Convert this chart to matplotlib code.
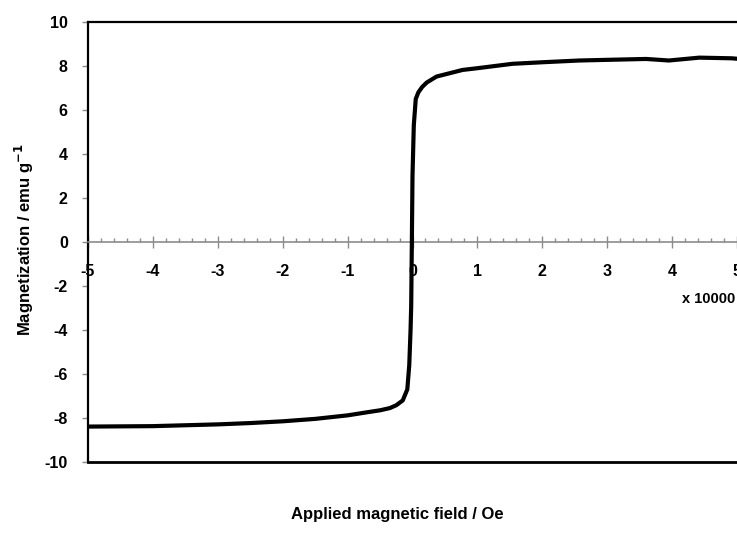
import matplotlib
matplotlib.use("Agg")
from matplotlib import pyplot as plt
from matplotlib.ticker import MultipleLocator

# applied field (x 10000 Oe) and magnetization (emu/g)
field = [-5.0, -4.5, -4.0, -3.5, -3.0, -2.5, -2.0, -1.5, -1.0, -0.7, -0.5, -0.35,
         -0.25, -0.15, -0.08, -0.05, -0.03, -0.02, -0.01, 0.0, 0.02, 0.05, 0.09,
         0.15, 0.22, 0.37, 0.77, 1.0, 1.54, 2.0, 2.57, 3.0, 3.6, 3.95, 4.42, 4.92, 5.0]
magnet = [-8.39, -8.38, -8.37, -8.33, -8.29, -8.23, -8.15, -8.04, -7.88, -7.74, -7.65, -7.55,
          -7.42, -7.2, -6.7, -5.6, -4.0, -2.9, 0.0, 3.0, 5.3, 6.5, 6.8,
          7.05, 7.25, 7.52, 7.82, 7.9, 8.1, 8.17, 8.25, 8.28, 8.32, 8.25, 8.38, 8.35, 8.33]

x_ticks = [-5, -4, -3, -2, -1, 0, 1, 2, 3, 4, 5]
y_ticks = [-10, -8, -6, -4, -2, 0, 2, 4, 6, 8, 10]

plt.rcParams['font.family'] = ['Liberation Sans', 'DejaVu Sans']
plt.rcParams['font.weight'] = 'bold'
plt.rcParams['mathtext.default'] = 'bf'

fig = plt.figure(figsize=(7.37, 5.35), dpi=100)
ax = fig.add_axes([88 / 737, 73 / 535, 1 - 88 / 737, 440 / 535])

ax.plot(field, magnet, color='black', lw=3, solid_capstyle='round', solid_joinstyle='round', zorder=5)

ax.set_xlim(-5, 5)
ax.set_ylim(-10, 10)

# x axis sits on y = 0 in grey, frame is black
ax.spines['bottom'].set_position(('data', 0))
ax.spines['bottom'].set_color('#8c8c8c')
ax.spines['bottom'].set_linewidth(1.2)
ax.spines['right'].set_visible(False)
ax.spines['top'].set_linewidth(1.6)
ax.spines['left'].set_linewidth(1.6)
ax.axhline(-10, color='black', lw=2, clip_on=False)

ax.set_xticks(x_ticks)
ax.set_xticklabels([str(v) for v in x_ticks])
ax.xaxis.set_minor_locator(MultipleLocator(0.2))
ax.tick_params(axis='x', which='major', direction='inout', length=8, width=1,
               color='#8c8c8c', labelsize=11.5, pad=12)
ax.tick_params(axis='x', which='minor', direction='in', length=3, width=1, color='#8c8c8c')

ax.set_yticks(y_ticks)
ax.set_yticklabels([str(v) for v in y_ticks])
ax.tick_params(axis='y', direction='out', length=4.5, width=1, color='#8c8c8c',
               labelsize=11.5, pad=10)

for lab in ax.get_xticklabels() + ax.get_yticklabels():
    lab.set_fontweight('bold')
    lab.set_zorder(1)

ax.text(0.997, 0.37, 'x 10000', transform=ax.transAxes, ha='right', va='center',
        fontsize=10.5, fontweight='bold')

fig.text(24 / 737, 1 - 240 / 535, 'Magnetization / emu g$^{-1}$', rotation=90,
         ha='center', va='center', fontsize=12, fontweight='bold')
fig.text(397 / 737, 1 - 514 / 535, 'Applied magnetic field / Oe',
         ha='center', va='center', fontsize=12, fontweight='bold')

fig.savefig('out.png', dpi=100)
